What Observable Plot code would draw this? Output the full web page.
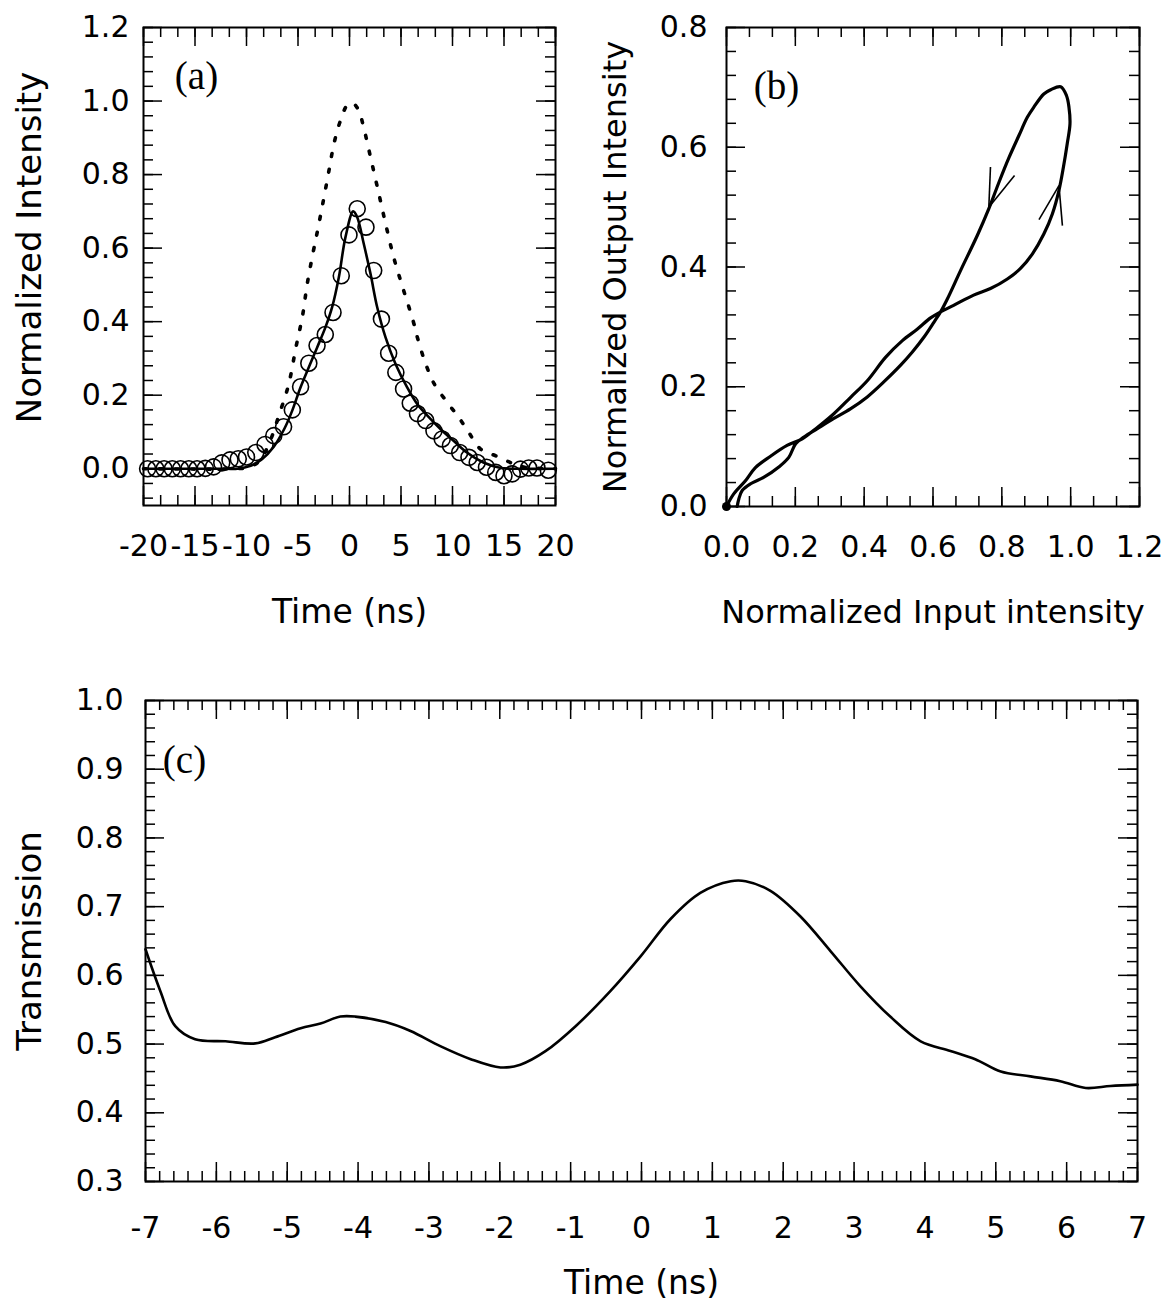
<!DOCTYPE html>
<html><head><meta charset="utf-8">
<script src="https://cdn.jsdelivr.net/npm/d3@7"></script>
<script src="https://cdn.jsdelivr.net/npm/@observablehq/plot@0.6"></script>
<style>
body{margin:0;background:#fff;}
#wrap{position:relative;width:1165px;height:1307px;overflow:hidden;background:#fff;}
#wrap > svg{position:absolute;}
</style></head><body><div id="wrap"></div>
<script>
// ---------- Panel (a) data ----------
const aCircleTime = [-19.6,-18.8,-18.0,-17.2,-16.4,-15.6,-14.8,-14.0,-13.2,-12.4,-11.6,-10.8,-10.0,-9.1,-8.2,-7.35,-6.4,-5.55,-4.75,-3.95,-3.15,-2.35,-1.6,-0.8,-0.05,0.75,1.6,2.35,3.1,3.8,4.5,5.25,5.9,6.6,7.4,8.2,9.0,9.8,10.7,11.6,12.4,13.3,14.2,15.0,15.8,16.6,17.4,18.2,19.3];
const aCircleValue = [0.0,0.0,0.0,0.0,0.0,0.0,0.0,0.001,0.005,0.016,0.024,0.027,0.032,0.044,0.066,0.090,0.114,0.160,0.223,0.287,0.335,0.365,0.425,0.525,0.636,0.707,0.657,0.539,0.407,0.314,0.262,0.217,0.178,0.150,0.131,0.103,0.081,0.063,0.044,0.031,0.017,0.004,-0.010,-0.019,-0.014,-0.001,0.002,0.002,-0.004];
const aFitTime = [-20,-12,-10.9,-9.6,-8.5,-7.35,-6.3,-5.56,-4.76,-3.95,-3.14,-2.33,-1.68,-1.04,-0.39,0.36,0.75,1.39,2.04,2.69,3.5,4.47,5.6,6.57,7.54,8.83,10.1,11.4,13.0,14.7,16.3,20];
const aFitValue = [0,0,0.0,0.008,0.026,0.06,0.11,0.158,0.221,0.276,0.33,0.385,0.44,0.52,0.63,0.70,0.684,0.611,0.53,0.439,0.357,0.285,0.221,0.176,0.145,0.108,0.076,0.044,0.017,0.002,0,0];
const aInputTime = [-20,-11,-10,-9,-8.3,-7.5,-6.8,-6.2,-5.8,-5.2,-4.56,-4.1,-3.5,-3.2,-2.6,-2.0,-1.5,-0.9,-0.2,0.3,0.9,1.36,2.1,2.8,3.5,4.3,5.2,6.2,6.6,7.4,8.2,9.5,10.6,11.6,12.7,14.2,15.7,17,20];
const aInputValue = [0,0,0.003,0.015,0.04,0.09,0.15,0.20,0.242,0.33,0.416,0.503,0.593,0.634,0.72,0.81,0.885,0.945,0.99,0.995,0.974,0.93,0.84,0.754,0.667,0.574,0.49,0.40,0.356,0.285,0.232,0.18,0.14,0.098,0.054,0.035,0.016,0.004,0];
const aXTicks = [-20,-15,-10,-5,0,5,10,15,20];
const aYTicks = [0.0,0.2,0.4,0.6,0.8,1.0,1.2];

// ---------- Panel (b) data ----------
const bInput = [0.0,0.021,0.055,0.084,0.128,0.176,0.220,0.264,0.312,0.360,0.409,0.462,0.511,0.554,0.593,0.622,0.660,0.718,0.767,0.816,0.855,0.889,0.922,0.947,0.966,0.979,0.990,0.998,0.995,0.988,0.971,
  0.942,0.922,0.893,0.874,0.850,0.821,0.792,0.762,0.729,0.680,0.642,0.622,0.603,0.574,0.540,0.506,0.457,0.409,0.360,0.312,0.264,0.225,0.201,0.181,0.152,0.109,0.070,0.046,0.036,0.031];
const bOutput = [0.0,0.021,0.043,0.065,0.084,0.102,0.113,0.132,0.155,0.182,0.210,0.249,0.277,0.296,0.315,0.325,0.336,0.353,0.364,0.380,0.398,0.422,0.455,0.489,0.528,0.567,0.606,0.639,0.667,0.686,0.701,
  0.696,0.689,0.667,0.650,0.620,0.583,0.542,0.497,0.453,0.394,0.347,0.325,0.308,0.283,0.258,0.236,0.208,0.183,0.163,0.147,0.130,0.116,0.105,0.082,0.066,0.049,0.038,0.027,0.013,0.0];
const bArrowTipX = [0.762,0.767,0.966,0.966];
const bArrowTipY = [0.497,0.503,0.536,0.536];
const bArrowTailX = [0.767,0.837,0.976,0.908];
const bArrowTailY = [0.567,0.553,0.469,0.479];
const bXTicks = [0.0,0.2,0.4,0.6,0.8,1.0,1.2];
const bYTicks = [0.0,0.2,0.4,0.6,0.8];

// ---------- Panel (c) data ----------
const cTime = [-7,-6.79,-6.58,-6.3,-5.87,-5.45,-5.17,-4.81,-4.53,-4.25,-4.04,-3.61,-3.26,-2.84,-2.41,-1.99,-1.71,-1.35,-0.93,-0.44,-0.01,0.41,0.83,1.26,1.47,1.82,2.24,2.67,3.09,3.51,3.94,4.36,4.71,5.07,5.49,5.91,6.27,6.62,7.0];
const cTrans = [0.638,0.577,0.526,0.507,0.504,0.501,0.51,0.523,0.53,0.54,0.54,0.532,0.519,0.497,0.478,0.466,0.47,0.49,0.526,0.577,0.628,0.682,0.72,0.737,0.737,0.723,0.686,0.635,0.584,0.54,0.504,0.49,0.478,0.46,0.453,0.446,0.436,0.439,0.441];
const cXTicks = [-7,-6,-5,-4,-3,-2,-1,0,1,2,3,4,5,6,7];
const cYTicks = [0.3,0.4,0.5,0.6,0.7,0.8,0.9,1.0];

// ---------- helpers ----------
const SANS = "DejaVu Sans";
const SERIF = "Liberation Serif";
const TICKFS = 30, LABFS = 33;

function minorRange(a, b, step) {
  const n = Math.round((b - a) / step);
  return d3.range(n + 1).map(i => +(a + i * step).toFixed(6));
}
function boxTicks(xMaj, xMin, yMaj, yMin, fw, fh) {
  const L = 19, l = 10, sw = 1.5;
  return [
    Plot.ruleX(xMaj, {insetTop: fh - L, strokeWidth: sw}),
    Plot.ruleX(xMaj, {insetBottom: fh - L, strokeWidth: sw}),
    Plot.ruleX(xMin, {insetTop: fh - l, strokeWidth: sw}),
    Plot.ruleX(xMin, {insetBottom: fh - l, strokeWidth: sw}),
    Plot.ruleY(yMaj, {insetRight: fw - L, strokeWidth: sw}),
    Plot.ruleY(yMaj, {insetLeft: fw - L, strokeWidth: sw}),
    Plot.ruleY(yMin, {insetRight: fw - l, strokeWidth: sw}),
    Plot.ruleY(yMin, {insetLeft: fw - l, strokeWidth: sw})
  ];
}
const fmt1 = d3.format(".1f");
const wrap = document.getElementById("wrap");
function place(svg, left, top) {
  svg.style.left = left + "px";
  svg.style.top = top + "px";
  wrap.appendChild(svg);
}

// ---------- Panel (a) ----------
{
  const W = 580, H = 640, mL = 143, mR = 25, mT = 27, mB = 135;
  const fw = W - mL - mR, fh = H - mT - mB;
  const idxC = d3.range(aCircleTime.length);
  const idxF = d3.range(aFitTime.length);
  const idxI = d3.range(aInputTime.length);
  const svg = Plot.plot({
    width: W, height: H, marginLeft: mL, marginRight: mR, marginTop: mT, marginBottom: mB,
    style: {fontFamily: SANS, fontSize: TICKFS + "px", background: "white", color: "black"},
    x: {domain: [-20, 20]},
    y: {domain: [-0.1, 1.2]},
    marks: [
      Plot.line(idxI, {x: i => aInputTime[i], y: i => aInputValue[i], curve: "catmull-rom", stroke: "black", strokeWidth: 3.6, strokeDasharray: "3,13"}),
      Plot.line(idxF, {x: i => aFitTime[i], y: i => aFitValue[i], curve: "catmull-rom", stroke: "black", strokeWidth: 2.6}),
      Plot.dot(idxC, {x: i => aCircleTime[i], y: i => aCircleValue[i], r: 8, stroke: "black", strokeWidth: 1.6, fill: "none"}),
      ...boxTicks(aXTicks, minorRange(-20, 20, 5/3), aYTicks, minorRange(-0.08, 1.2, 0.04), fw, fh),
      Plot.frame({stroke: "black", strokeWidth: 2}),
      Plot.axisX(aXTicks, {tickSize: 0, tickPadding: 29, tickFormat: d => String(d), label: null, fontSize: TICKFS}),
      Plot.axisY(aYTicks, {tickSize: 0, tickPadding: 14, tickFormat: fmt1, label: null, fontSize: TICKFS}),
      Plot.text(["(a)"], {frameAnchor: "top-left", dx: 53, dy: 49, fontFamily: SERIF, fontSize: 39, textAnchor: "middle", lineAnchor: "middle"}),
      Plot.text(["Time (ns)"], {frameAnchor: "bottom", dy: 107, fontSize: LABFS, textAnchor: "middle", lineAnchor: "middle"}),
      Plot.text(["Normalized Intensity"], {frameAnchor: "left", dx: -113, dy: -19, rotate: -90, fontSize: 34, textAnchor: "middle", lineAnchor: "middle"})
    ]
  });
  place(svg, 0, 0);
}

// ---------- Panel (b) ----------
{
  const W = 585, H = 640, mL = 146, mR = 26, mT = 27, mB = 134;
  const fw = W - mL - mR, fh = H - mT - mB;
  const idx = d3.range(bInput.length);
  const idxA = d3.range(bArrowTipX.length);
  const svg = Plot.plot({
    width: W, height: H, marginLeft: mL, marginRight: mR, marginTop: mT, marginBottom: mB,
    style: {fontFamily: SANS, fontSize: TICKFS + "px", background: "white", color: "black"},
    x: {domain: [0, 1.2]},
    y: {domain: [0, 0.8]},
    marks: [
      Plot.line(idx, {x: i => bInput[i], y: i => bOutput[i], curve: "catmull-rom", stroke: "black", strokeWidth: 3.2, strokeLinejoin: "round"}),
      Plot.link(idxA, {x1: i => bArrowTipX[i], y1: i => bArrowTipY[i], x2: i => bArrowTailX[i], y2: i => bArrowTailY[i], stroke: "black", strokeWidth: 1.6}),
      Plot.dot([0], {x: d => d, y: d => d, r: 4.5, fill: "black"}),
      ...boxTicks(bXTicks, minorRange(0, 1.2, 0.2/3), bYTicks, minorRange(0, 0.8, 0.04), fw, fh),
      Plot.frame({stroke: "black", strokeWidth: 2}),
      Plot.axisX(bXTicks, {tickSize: 0, tickPadding: 29, tickFormat: fmt1, label: null, fontSize: TICKFS}),
      Plot.axisY(bYTicks, {tickSize: 0, tickPadding: 19, tickFormat: fmt1, label: null, fontSize: TICKFS}),
      Plot.text(["(b)"], {frameAnchor: "top-left", dx: 50, dy: 59, fontFamily: SERIF, fontSize: 39, textAnchor: "middle", lineAnchor: "middle"}),
      Plot.text(["Normalized Input intensity"], {frameAnchor: "bottom", dy: 106, fontSize: 32, textAnchor: "middle", lineAnchor: "middle"}),
      Plot.text(["Normalized Output Intensity"], {frameAnchor: "left", dx: -111, dy: 0, rotate: -90, fontSize: 32, textAnchor: "middle", lineAnchor: "middle"})
    ]
  });
  place(svg, 580, 0);
}

// ---------- Panel (c) ----------
{
  const W = 1165, H = 657, mL = 145, mR = 28, mT = 50, mB = 126;
  const fw = W - mL - mR, fh = H - mT - mB;
  const idx = d3.range(cTime.length);
  const svg = Plot.plot({
    width: W, height: H, marginLeft: mL, marginRight: mR, marginTop: mT, marginBottom: mB,
    style: {fontFamily: SANS, fontSize: TICKFS + "px", background: "white", color: "black"},
    x: {domain: [-7, 7]},
    y: {domain: [0.3, 1.0]},
    marks: [
      Plot.line(idx, {x: i => cTime[i], y: i => cTrans[i], curve: "catmull-rom", stroke: "black", strokeWidth: 2.6}),
      ...boxTicks(cXTicks, minorRange(-7, 7, 0.2), cYTicks, minorRange(0.3, 1.0, 0.02), fw, fh),
      Plot.frame({stroke: "black", strokeWidth: 2}),
      Plot.axisX(cXTicks, {tickSize: 0, tickPadding: 35, tickFormat: d => String(d), label: null, fontSize: TICKFS}),
      Plot.axisY(cYTicks, {tickSize: 0, tickPadding: 22, tickFormat: fmt1, label: null, fontSize: TICKFS}),
      Plot.text(["(c)"], {frameAnchor: "top-left", dx: 39, dy: 60, fontFamily: SERIF, fontSize: 39, textAnchor: "middle", lineAnchor: "middle"}),
      Plot.text(["Time (ns)"], {frameAnchor: "bottom", dy: 102, fontSize: LABFS, textAnchor: "middle", lineAnchor: "middle"}),
      Plot.text(["Transmission"], {frameAnchor: "left", dx: -115, dy: 0, rotate: -90, fontSize: 34, textAnchor: "middle", lineAnchor: "middle"})
    ]
  });
  place(svg, 0, 650);
}
</script></body></html>
